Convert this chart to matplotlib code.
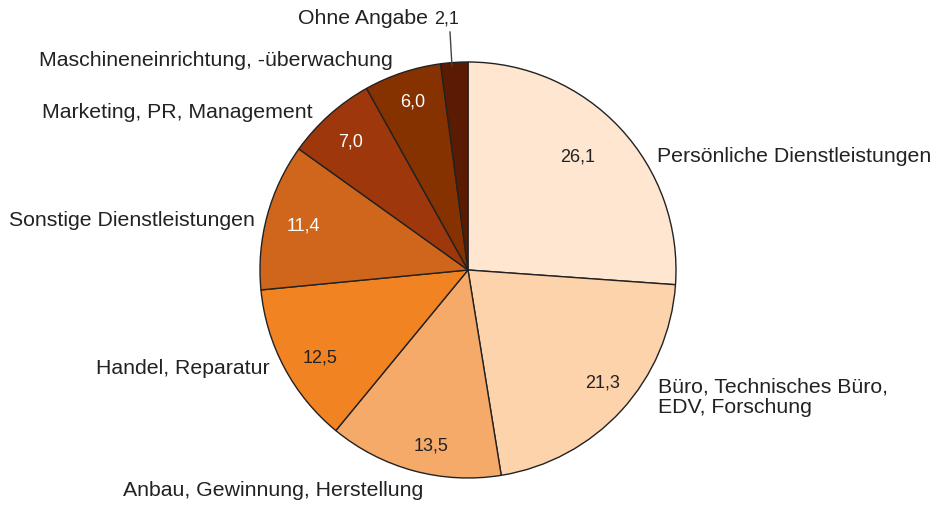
# Kreisdiagramm: Anteile nach Tätigkeitsbereich

import matplotlib.pyplot as plt

plt.rcParams['font.family'] = ['Liberation Sans', 'DejaVu Sans']

Bereiche = ["Persönliche Dienstleistungen",
            "Büro, Technisches Büro,\nEDV, Forschung",
            "Anbau, Gewinnung, Herstellung",
            "Handel, Reparatur",
            "Sonstige Dienstleistungen",
            "Marketing, PR, Management",
            "Maschineneinrichtung, -überwachung",
            "Ohne Angabe"]
Anteile = [26.1, 21.3, 13.5, 12.5, 11.4, 7.0, 6.0, 2.1]
Werte_Text = ["26,1", "21,3", "13,5", "12,5", "11,4", "7,0", "6,0", "2,1"]

Farben = ["#FEE6D1", "#FDD3AC", "#F6AA6A", "#F28322",
          "#CF661C", "#9F370D", "#853100", "#5A1B02"]
Wert_Farben = ["#222222", "#222222", "#222222", "#222222",
               "white", "white", "white", "#222222"]

# Positionen in Pixel (Bild 935x507, y von unten)
Mitte = (468, 507 - 270)
Radius = 208
Label_Pos = [(657, 507 - 157, "left"),
             (658, 507 - 397, "left"),
             (273, 507 - 491, "center"),
             (270, 507 - 368, "right"),
             (255, 507 - 221, "right"),
             (313, 507 - 112, "right"),
             (393, 507 - 60, "right"),
             (428, 507 - 19, "right")]
Wert_Pos = [(578, 507 - 157), (603, 507 - 383), (431, 507 - 446),
            (320, 507 - 358), (303, 507 - 226), (351, 507 - 142),
            (413, 507 - 102), (447, 507 - 19)]

fig = plt.figure(figsize=(9.35, 5.07), dpi=100)
ax = fig.add_axes([0, 0, 1, 1])

Stuecke, _ = ax.pie(Anteile, colors=Farben, startangle=90, counterclock=False,
                    center=Mitte, radius=Radius, normalize=True,
                    wedgeprops=dict(edgecolor="#222222", linewidth=1.0))

ax.set_xlim(0, 935)
ax.set_ylim(0, 507)
ax.set_aspect("equal")
ax.axis("off")

for i, name in enumerate(Bereiche):
    x, y, ha = Label_Pos[i]
    ax.text(x, y, name, ha=ha, va="center", fontsize=15.3, color="#222222",
            linespacing=1.1)
    wx, wy = Wert_Pos[i]
    ax.text(wx, wy, Werte_Text[i], ha="center", va="center", fontsize=13,
            color=Wert_Farben[i])

# Hinweislinie zu "Ohne Angabe"
ax.plot([450, 452], [507 - 32, 507 - 66], color="#444444", linewidth=1.0)

fig.savefig("out.png", dpi=100)
